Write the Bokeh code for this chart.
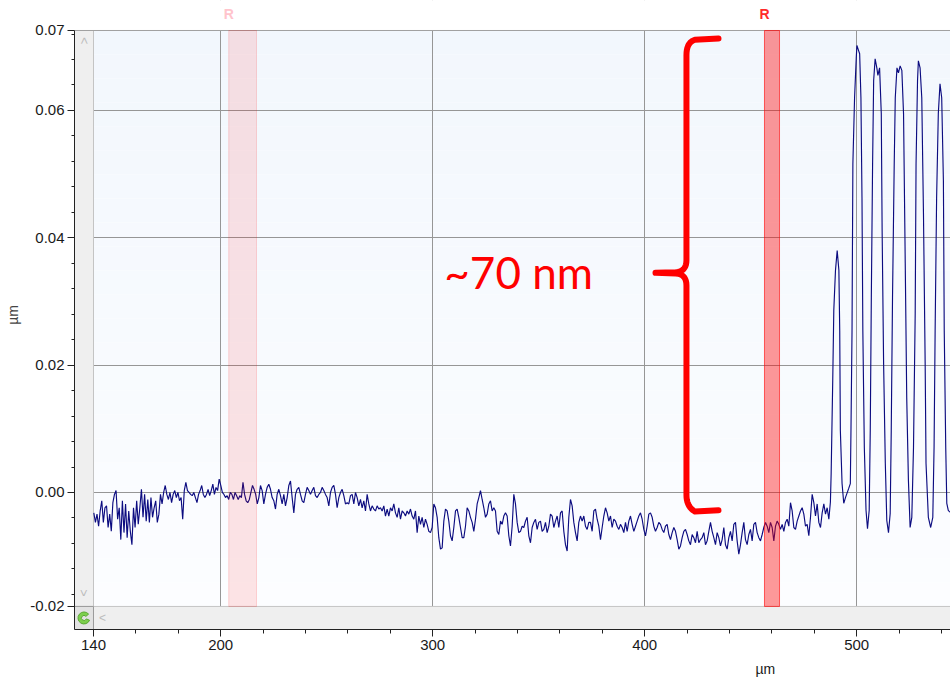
import numpy as np
from bokeh.plotting import figure
from bokeh.models import Range1d, FixedTicker, CustomJSTickFormatter, Label, Title
from bokeh.core.properties import value
from bokeh.embed import file_html
from bokeh.resources import INLINE

# ---------------- data (heights in nm, positions in µm) ----------------
seg1_x = (140.16, 218.0)
seg1_nm = [-3.2, -4.7, -3.4, -5.3, -2.9, -1.3, -4.7, -2.4, -2.1, -5.5, -3.4, -6.1, -1.6, -0.3, 0.3,
           -4.2, -2.4, -7.4, -1.3, -6.3, -1.8, -7.1, -2.9, -6.1, -8.2, -2.4, -5.5, -1.3, -5.0, -2.4,
           0.5, -3.9, -0.3, -4.5, -1.1, -4.7, -0.8, -3.9, -2.4, -1.3, -4.7, -3.4, -0.3, -1.8, 0.0,
           1.1, -0.3, -1.1, 0.0, -1.6, -0.3, 0.3, -0.8, 0.0, -1.3, -0.8, -4.2, 0.3, 1.6, 0.3,
           0.0, -0.3, -0.5, 0.0, -0.8, -1.6, -0.3, 0.3, 1.1, -0.3, -0.8, -0.3, 0.5, -0.5, 0.3,
           1.3, -0.3, 0.8, 0.3, 2.1, 1.1, 0.0, -0.3, -0.8, -0.5, -1.1, 0.0, -0.3, -1.1, 0.0,
           -0.5, -1.1, -0.5, -0.8, 1.6, -0.3, -1.3, -1.6, -1.1, 0.0, 1.1, 0.5, -0.3, -1.8, -0.8]
seg2_x = (218.77, 298.17)
seg2_nm = [1.1, 0.3, -1.8, -0.3, 0.8, 1.3, 0.5, -0.8, -1.3, -2.6, -0.3, 0.5, -0.5, -1.8, -0.3,
           -2.1, -0.8, 1.1, 1.8, -0.8, -3.2, -0.3, 0.5, 0.8, -0.3, -1.3, -1.6, -0.3, 0.8, 0.3,
           -0.3, 0.3, 0.8, -0.5, -0.8, -0.3, 0.0, 0.8, 0.3, -0.3, -0.8, -2.1, 0.0, 0.8, 1.1,
           -0.3, -2.4, -0.8, 0.0, 0.5, -0.5, -1.8, -1.6, -1.8, -0.5, -0.3, -1.8, 0.0, -0.8, -2.1,
           -1.1, -2.4, -1.3, -2.9, -0.3, -1.8, -2.9, -2.1, -2.6, -2.9, -2.1, -2.6, -2.4, -2.9, -2.1,
           -3.7, -2.6, -3.7, -2.4, -2.9, -1.8, -3.2, -3.9, -2.4, -4.2, -2.9, -3.2, -3.7, -2.9, -3.4,
           -2.6, -3.7, -4.2, -2.9, -6.3, -3.7, -5.0, -3.9, -5.5, -4.2, -5.0, -6.1]
seg3_x = (298.96, 378.36)
seg3_nm = [-6.3, -5.5, -1.8, -2.4, -3.9, -7.1, -8.9, -8.7, -4.5, -2.6, -2.9, -4.5, -6.8, -7.6, -5.5,
           -2.9, -2.6, -3.9, -5.5, -7.1, -7.1, -5.3, -2.4, -2.9, -3.9, -4.7, -6.1, -4.2, -1.8, -0.8,
           0.3, -1.1, -2.4, -3.9, -3.4, -1.8, -1.3, -2.9, -2.4, -2.9, -6.1, -6.6, -4.5, -5.0, -3.7,
           -3.2, -3.7, -6.8, -8.4, -5.3, -0.3, -1.8, -4.7, -6.3, -6.1, -5.3, -5.5, -4.5, -3.9, -6.8,
           -7.9, -5.5, -4.7, -4.2, -5.8, -4.7, -4.5, -6.1, -5.8, -4.7, -6.3, -5.3, -3.4, -3.7, -5.5,
           -4.5, -3.7, -5.5, -3.2, -2.9, -6.1, -8.2, -9.2, -3.9, -1.1, -2.1, -4.7, -6.3, -7.6, -4.7,
           -3.7, -4.5, -3.7, -5.3, -5.8, -4.7, -4.7, -6.1, -2.9, -2.6, -4.2, -5.3]
seg4_x = (379.15, 458.55)
seg4_nm = [-7.4, -5.5, -3.7, -2.4, -3.2, -4.5, -3.7, -5.5, -4.2, -4.5, -5.3, -5.8, -5.0, -5.5, -6.3,
           -4.7, -6.1, -4.5, -3.7, -5.0, -6.1, -5.3, -4.5, -3.7, -3.2, -4.2, -5.8, -6.8, -5.3, -3.4,
           -3.2, -3.9, -5.3, -6.1, -5.5, -4.7, -5.0, -5.8, -6.3, -5.3, -5.0, -6.6, -7.4, -6.3, -5.5,
           -6.1, -7.4, -8.9, -8.4, -7.1, -6.1, -5.8, -6.6, -7.6, -8.2, -6.6, -7.1, -7.9, -6.1, -7.9,
           -7.4, -7.1, -6.3, -8.2, -7.6, -6.1, -4.7, -6.1, -7.1, -8.2, -6.3, -7.1, -8.4, -7.4, -5.5,
           -8.2, -8.9, -7.1, -6.1, -7.6, -5.0, -4.7, -7.6, -9.7, -8.2, -6.3, -4.7, -7.4, -8.2, -6.6,
           -5.8, -7.6, -5.0, -4.7, -6.3, -7.1, -7.6, -6.6, -5.5, -4.7, -5.3, -6.3]
seg5_x = (459.34, 486.86)
seg5_nm = [-4.7, -5.5, -7.6, -5.3, -4.5, -5.0, -5.8, -5.0, -6.1, -4.7, -4.2, -5.3, -1.6, -2.9, -5.5,
           -5.8, -4.5, -3.7, -2.9, -2.4, -3.4, -5.3, -5.0, -6.8, -3.9, -0.3, -1.6, -3.7, -1.8, -4.7,
           -5.5, -3.2, -1.8, -3.4, -2.4, -4.2]
# grating region (explicit samples)
grating_x = [487.6, 487.95, 488.7, 489.2, 490.0, 490.8, 491.6, 492.0, 492.3, 493.1, 493.9, 494.7,
             496.2, 497.0, 497.3, 497.8, 498.2, 499.0, 499.8, 500.1, 500.9, 501.4, 502.0, 502.5,
             502.9, 503.6, 504.4, 505.1, 505.9, 506.4, 506.9, 507.5, 508.0, 508.7, 509.5, 510.0,
             510.8, 511.6, 512.0, 512.7, 513.5, 514.2, 515.0, 515.8, 516.3, 516.9, 517.7, 518.2,
             519.0, 519.7, 520.5, 521.3, 522.1, 522.9, 523.6, 524.4, 525.2, 526.0, 526.8, 527.6,
             528.0, 528.7, 529.1, 529.9, 530.7, 531.5, 532.3, 532.7, 533.8, 534.9, 535.9, 536.5,
             537.0, 537.7, 538.5, 539.3, 540.1, 540.9, 541.3, 542.0, 542.5, 543.2, 544.0]
grating_nm = [-1.5, 2.9, 17.6, 28.6, 34.9, 38.0, 34.9, 25.4, 9.7, 1.4, -1.7, -0.8,
              0.6, 1.4, 9.7, 25.4, 51.6, 62.0, 68.3, 70.2, 69.4, 68.9, 62.0, 46.3,
              25.4, 7.1, -2.8, -5.7, -2.8, 9.7, 30.6, 51.6, 64.7, 68.1, 66.7, 65.5,
              66.7, 59.5, 41.1, 20.2, 4.6, -4.4, -6.3, -3.3, 9.7, 30.6, 51.6, 62.0,
              66.7, 65.9, 67.0, 66.3, 59.5, 36.0, 14.9, 1.9, -5.5, -3.9, 7.1, 28.1,
              51.6, 64.7, 67.8, 66.7, 62.0, 43.8, 20.2, 4.6, -3.9, -5.5, -3.9, 7.1,
              25.4, 46.3, 59.5, 64.2, 62.0, 49.0, 25.4, 7.1, -1.7, -2.8, -3.1]

# reference regions ("R" cursors), µm
region_left = [203.8, 456.5]
region_right = [216.9, 463.6]
region_alpha = [0.10, 0.40]
region_label = ["R", "R"]
region_label_color = ["#ffc4cc", "#ff2a2a"]

# axes
x_major = [140, 200, 300, 400, 500]
x_minor = list(range(140, 545, 20))
y_major = [-0.0179, 0.0, 0.02, 0.04, 0.06, 0.07256]
y_minor = [round(v, 3) for v in np.arange(-0.016, 0.0725, 0.004)]
y_grid = [0.0, 0.02, 0.04, 0.06]
x_label = "µm"
y_label = "µm"

# annotation
step_text = "~70 nm"

# ---------------- assemble ----------------
xs, ys = [], []
for (a, b), vals in [(seg1_x, seg1_nm), (seg2_x, seg2_nm), (seg3_x, seg3_nm),
                     (seg4_x, seg4_nm), (seg5_x, seg5_nm)]:
    xs.extend(np.linspace(a, b, len(vals)))
    ys.extend(np.array(vals) / 1000.0)
xs.extend(grating_x)
ys.extend(np.array(grating_nm) / 1000.0)

PXU = 6367.0                  # px per µm (vertical)
X0, X1 = 131.04, 544.25       # frame incl. scroll strip
Y0, Y1 = -0.02152, 0.07256    # scroll strip bottom, plot top
YTOP = Y0 + 629 / PXU         # frame extends to canvas top (room for cursor labels)
PX0 = 140.0                   # plot area left
PY0 = -0.0179                 # plot area bottom

p = figure(width=950, height=683, x_range=Range1d(X0, X1), y_range=Range1d(Y0, YTOP),
           output_backend="svg", toolbar_location=None,
           min_border_left=74, min_border_right=0, min_border_top=0, min_border_bottom=54)
p.background_fill_color = "white"
p.border_fill_color = "white"
p.outline_line_color = None

# plot-area gradient
nb = 24
edges = np.linspace(PY0, Y1, nb + 1)
top_c = np.array([242, 247, 253])
bot_c = np.array([252, 253, 255])
cols = []
for i in range(nb):
    t = (i + 0.5) / nb
    c = bot_c + (top_c - bot_c) * t
    cols.append("#%02x%02x%02x" % tuple(int(round(v)) for v in c))
p.quad(left=PX0, right=X1, bottom=edges[:-1], top=edges[1:], fill_color=cols,
       line_color=None, level="image")

# grids
p.xgrid.ticker = FixedTicker(ticks=[t for t in x_major if t > 140])
p.ygrid.ticker = FixedTicker(ticks=y_grid)
for g in (p.xgrid, p.ygrid):
    g.grid_line_color = "#969696"
    g.grid_line_width = 1

# white area above the plot (covers grid lines)
p.quad(left=X0 - 5, right=X1 + 5, bottom=Y1, top=YTOP + 0.01, fill_color="white", line_color=None)

# scroll strips
p.quad(left=X0, right=PX0, bottom=PY0, top=Y1, fill_color="#efefef", line_color="#c4c4c4")
p.quad(left=PX0, right=X1, bottom=Y0, top=PY0, fill_color="#efefef", line_color="#c4c4c4")
p.quad(left=X0, right=PX0, bottom=Y0, top=PY0, fill_color="#e2e2e2", line_color="#9a9a9a")
p.annular_wedge(x=(X0 + PX0) / 2, y=(Y0 + PY0) / 2, inner_radius=2.5, outer_radius=6,
                inner_radius_units="screen", outer_radius_units="screen",
                start_angle=0.7, end_angle=5.9, fill_color="#7ccf4c", line_color="#5aa832")
p.text(x=[(X0 + PX0) / 2, (X0 + PX0) / 2, PX0 + 4.2],
       y=[Y1 - 0.0016, PY0 + 0.0021, (Y0 + PY0) / 2],
       text=["<", "<", "<"], angle=[-np.pi / 2, np.pi / 2, 0],
       text_align="center", text_baseline="middle", text_color="#bcbcbc",
       text_font=value("Liberation Sans"), text_font_size="12px")

# top border of plot
p.segment(x0=X0, y0=Y1, x1=X1, y1=Y1, line_color="#a0a0a0", line_width=1)

# profile
p.line(xs, ys, line_color="#0c0c80", line_width=1.15)

# R regions
for l, r, a in zip(region_left, region_right, region_alpha):
    p.quad(left=l, right=r, bottom=PY0, top=Y1, fill_color="#ff0000", fill_alpha=a,
           line_color="#ff0000", line_alpha=min(1.0, a * 1.5))
p.text(x=region_left, y=[Y1 + 16 / PXU] * len(region_left), text=region_label,
       text_color=region_label_color, text_align="center", text_baseline="middle",
       text_font=value("Liberation Sans"), text_font_size="14px", text_font_style="bold")

# curly brace annotation
bx, arm_x, tip_x = 419.7, 434.8, 405.1
y_top, y_ctop, y_tip, y_cbot, y_bot = 0.0713, 0.0699, 0.0345, -0.0016, -0.0028


def qbez(p0, p1, p2, n=10):
    t = np.linspace(0, 1, n)[:, None]
    P0, P1, P2 = map(np.array, (p0, p1, p2))
    return (1 - t) ** 2 * P0 + 2 * (1 - t) * t * P1 + t ** 2 * P2


pts = [np.array([[arm_x, y_top]])]
pts.append(qbez((bx + 4, y_top - 0.0002), (bx, y_top - 0.0006), (bx, y_ctop - 0.0012)))
pts.append(qbez((bx, y_tip + 0.0020), (bx, y_tip + 0.0002), (bx - 5, y_tip + 0.0001)))
pts.append(np.array([[tip_x, y_tip]]))
pts.append(qbez((bx - 5, y_tip - 0.0001), (bx, y_tip - 0.0002), (bx, y_tip - 0.0020)))
pts.append(qbez((bx, y_cbot + 0.0012), (bx, y_bot + 0.0006), (bx + 4, y_bot - 0.0002)))
pts.append(np.array([[arm_x, y_bot]]))
path = np.vstack(pts)
p.line(path[:, 0], path[:, 1], line_color="#ff0000", line_width=6,
       line_join="round", line_cap="round")

p.add_layout(Label(x=305.5, y=0.0347, text=step_text, text_align="left", text_baseline="middle",
                   text_color="#ff0000", text_font="Lato", text_font_size="44px"))

# axes
p.yaxis.ticker = FixedTicker(ticks=y_major, minor_ticks=y_minor)
p.yaxis.formatter = CustomJSTickFormatter(code="return tick.toFixed(2);")
p.yaxis.bounds = (Y0, Y1)
p.xaxis.ticker = FixedTicker(ticks=x_major, minor_ticks=x_minor)
for ax in (p.xaxis[0], p.yaxis[0]):
    ax.axis_line_color = "#222222"
    ax.major_tick_line_color = "#222222"
    ax.minor_tick_line_color = "#222222"
    ax.major_tick_in = 0
    ax.major_tick_out = 7
    ax.minor_tick_in = 0
    ax.minor_tick_out = 3
    ax.major_label_text_font = "Liberation Sans"
    ax.major_label_text_font_size = "15px"
    ax.major_label_text_color = "#1a1a1a"
    ax.major_label_standoff = 3
p.xaxis.minor_tick_out = 4
p.yaxis.axis_label = y_label
p.yaxis.axis_label_text_font = "Liberation Sans"
p.yaxis.axis_label_text_font_size = "14px"
p.yaxis.axis_label_text_font_style = "normal"
p.yaxis.axis_label_standoff = 6

p.add_layout(Title(text=x_label, align="left", offset=681, standoff=12,
                   text_font="Liberation Sans", text_font_size="14px",
                   text_font_style="normal", text_color="#1a1a1a"), "below")

open("out.html", "w").write(file_html(p, INLINE))
